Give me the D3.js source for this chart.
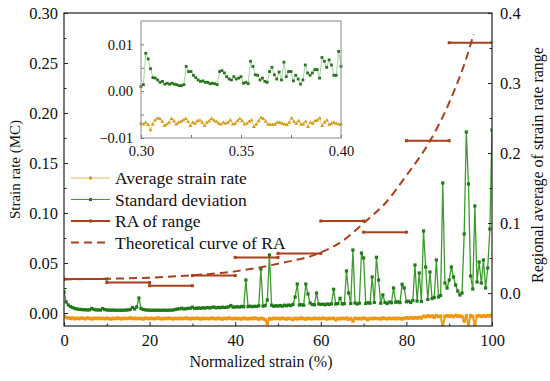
<!DOCTYPE html>
<html>
<head>
<meta charset="utf-8">
<script src="https://d3js.org/d3.v7.min.js"></script>
<style>
  body { margin: 0; background: #fff; }
</style>
</head>
<body>
<svg width="550" height="381"></svg>
<script>
// ---- data ----
// main plot, x = 0, 0.5, 1 ... 100 (% normalized strain)
var stdDev = [
  0.021,0.011,0.008,0.0065,0.0055,0.0045,0.004,0.0037,0.0035,0.0033,0.0032,0.003,0.0032,0.0046,0.0036,0.003,0.0031,0.0029,0.0045,0.0035,
  0.003,0.0029,0.0028,0.0029,0.0028,0.0027,0.0028,0.0027,0.0028,0.0029,0.0031,0.0036,0.0055,0.004,0.006,0.015,0.0045,0.0035,0.0031,0.0029,
  0.0028,0.0027,0.0028,0.0027,0.0028,0.0027,0.0027,0.0028,0.0027,0.0028,0.0028,0.003,0.0035,0.004,0.0042,0.0048,0.004,0.0043,0.0046,0.0048,
  0.0058,0.0045,0.0048,0.005,0.0047,0.0052,0.0049,0.0055,0.0051,0.0054,0.006,0.0052,0.0056,0.0053,0.0058,0.0055,0.0057,0.0062,0.0075,0.0058,
  0.006,0.0063,0.0059,0.0066,0.0062,0.033,0.0064,0.0068,0.0063,0.0067,0.0065,0.0072,0.044,0.0069,0.0074,0.013,0.058,0.0078,0.0068,0.0072,
  0.007,0.0075,0.0068,0.0078,0.0072,0.008,0.0074,0.0085,0.016,0.029,0.008,0.0083,0.0078,0.029,0.019,0.01,0.0085,0.0082,0.02,0.009,
  0.0085,0.0088,0.0082,0.009,0.0086,0.0092,0.0237,0.009,0.0095,0.0147,0.009,0.0093,0.042,0.02,0.0095,0.063,0.01,0.009,0.0098,0.06,
  0.055,0.0095,0.0102,0.0098,0.036,0.0105,0.0557,0.033,0.0098,0.018,0.0105,0.0095,0.011,0.0102,0.025,0.0108,0.0112,0.0104,0.0287,0.025,
  0.0112,0.0118,0.0105,0.0125,0.048,0.012,0.04,0.0115,0.082,0.046,0.0135,0.041,0.0145,0.0155,0.053,0.016,0.0175,0.13,0.03,0.025,
  0.033,0.046,0.036,0.028,0.022,0.018,0.02,0.079,0.181,0.129,0.037,0.024,0.107,0.031,0.051,0.03,0.053,0.025,0.045,0.084,
  0.183
];
var avgRate = [
  -0.003,-0.0045,-0.005,-0.0055,-0.005,-0.0058,-0.0052,-0.0056,-0.005,-0.0054,-0.0058,-0.005,-0.0055,-0.006,-0.0052,-0.0056,-0.0051,-0.0057,-0.0053,-0.0058,
  -0.0052,-0.0056,-0.006,-0.0053,-0.0057,-0.005,-0.0055,-0.0059,-0.0052,-0.0056,-0.0054,-0.0049,-0.0057,-0.0052,-0.0058,-0.0053,-0.0056,-0.006,-0.0051,-0.0055,
  -0.0057,-0.0052,-0.0058,-0.0054,-0.005,-0.0056,-0.0059,-0.0053,-0.0057,-0.0051,-0.0055,-0.006,-0.0053,-0.0057,-0.0052,-0.0058,-0.0054,-0.005,-0.0056,-0.0059,
  -0.0053,-0.0057,-0.0051,-0.0055,-0.006,-0.0052,-0.0057,-0.0054,-0.0058,-0.005,-0.0055,-0.0059,-0.0052,-0.0056,-0.0061,-0.0053,-0.0057,-0.005,-0.0055,-0.0058,
  -0.0052,-0.0057,-0.0054,-0.006,-0.0051,-0.0056,-0.0059,-0.0053,-0.0058,-0.005,-0.0055,-0.0062,-0.0053,-0.0057,-0.0068,-0.0103,-0.0056,-0.006,-0.0052,-0.0057,
  -0.0054,-0.0059,-0.0051,-0.0056,-0.006,-0.0053,-0.0057,-0.0065,-0.0052,-0.0058,-0.0055,-0.005,-0.0057,-0.0061,-0.0053,-0.0056,-0.0059,-0.0052,-0.0057,-0.0054,
  -0.0058,-0.0051,-0.0056,-0.006,-0.0053,-0.0057,-0.0052,-0.0068,-0.0055,-0.0059,-0.0053,-0.0057,-0.005,-0.0063,-0.0055,-0.008,-0.0052,-0.0057,-0.0054,-0.0059,
  -0.0051,-0.0056,-0.0066,-0.0053,-0.0058,-0.0052,-0.0057,-0.0054,-0.006,-0.005,-0.0055,-0.0059,-0.0052,-0.0057,-0.0053,-0.0058,-0.0051,-0.0056,-0.006,-0.0053,
  -0.0048,-0.0054,-0.0045,-0.0052,-0.0047,-0.0051,-0.0044,-0.005,-0.0032,-0.0038,-0.0028,-0.0035,-0.003,-0.0042,-0.0027,-0.0036,-0.0031,-0.014,-0.0034,-0.0026,
  -0.0033,-0.0028,-0.0037,-0.0025,-0.0032,-0.0029,-0.0036,-0.008,-0.0031,-0.011,-0.0027,-0.0034,-0.012,-0.003,-0.0026,-0.0035,-0.0029,-0.0033,-0.0025,-0.003,
  -0.002
];
// regional average of range, one value per 10 % block (right axis)
var raStart = [0, 10, 20, 30, 40, 50, 60, 70, 80, 90];
var raValue = [0.02, 0.015, 0.0105, 0.025, 0.051, 0.0567, 0.103, 0.087, 0.2176, 0.3576];
// theoretical curve of RA (right axis)
var theoX = [0, 10, 20, 30, 40, 50, 60, 65, 70, 75, 80, 85, 90, 95, 95.7];
var theoY = [0.0195, 0.0205, 0.022, 0.0255, 0.031, 0.042, 0.058, 0.074, 0.1, 0.128, 0.168, 0.212, 0.272, 0.355, 0.37];
// inset, x from 0.30 to 0.40
var insetStd = [
  0.0010,0.0014,0.0081,0.0069,0.0048,0.0029,0.0028,0.0024,0.0019,0.0021,0.0015,0.0017,0.0015,0.0017,0.0015,0.0014,0.0012,0.0012,0.0014,0.0053,
  0.0042,0.0042,0.0034,0.0029,0.0024,0.0021,0.0022,0.0019,0.0019,0.0016,0.0017,0.0016,0.0014,0.0042,0.0044,0.0039,0.0031,0.0026,0.0024,0.0031,
  0.0026,0.0028,0.0031,0.0017,0.0019,0.0016,0.0064,0.0053,0.0035,0.0034,0.0024,0.0028,0.0021,0.0019,0.0042,0.0051,0.0035,0.0026,0.0041,0.0024,
  0.0062,0.0031,0.0042,0.0042,0.0022,0.0034,0.0026,0.0015,0.0024,0.0056,0.0039,0.0034,0.0039,0.0046,0.0046,0.0028,0.0072,0.0064,0.0051,0.0067,
  0.0056,0.0034,0.0034,0.0085,0.0053
];
var insetAvg = [
  -0.0069,-0.0071,-0.0067,-0.0072,-0.0083,-0.0071,-0.0062,-0.0058,-0.0059,-0.0065,-0.0074,-0.0071,-0.0067,-0.0059,-0.0064,-0.0071,-0.0067,-0.0065,-0.0062,-0.0059,
  -0.0065,-0.0074,-0.0067,-0.0069,-0.0064,-0.0062,-0.0067,-0.0074,-0.0067,-0.0064,-0.0059,-0.0062,-0.0065,-0.0069,-0.0071,-0.0067,-0.0069,-0.0067,-0.0062,-0.0071,
  -0.0069,-0.0064,-0.0059,-0.0064,-0.0071,-0.0069,-0.0065,-0.0062,-0.0076,-0.0071,-0.0064,-0.0057,-0.0059,-0.0065,-0.0071,-0.0072,-0.0072,-0.0071,-0.0067,-0.0067,
  -0.0069,-0.0071,-0.0072,-0.0067,-0.0058,-0.0065,-0.0069,-0.0064,-0.0071,-0.0071,-0.0065,-0.0076,-0.0067,-0.0069,-0.0064,-0.0062,-0.0058,-0.0074,-0.0067,-0.0062,
  -0.0072,-0.0069,-0.0067,-0.0069,-0.0071,-0.0071
];
var xTicks = [0, 20, 40, 60, 80, 100];
var yLeftTicks = [0, 0.05, 0.10, 0.15, 0.20, 0.25, 0.30];
var yRightTicks = [0, 0.1, 0.2, 0.3, 0.4];
var insetXTicks = [0.30, 0.35, 0.40];
var insetYTicks = [-0.01, 0, 0.01];
var legendNames = ["Average strain rate", "Standard deviation", "RA of range", "Theoretical curve of RA"];

// ---- layout ----
var FONT = "'Liberation Serif', 'Times New Roman', Times, serif";
var svg = d3.select("svg").attr("font-family", FONT);
var L = 64, R = 492, T = 13, B = 326;

var x = d3.scaleLinear().domain([0, 100]).range([L, R]);
var yL = d3.scaleLinear().domain([-0.013, 0.30]).range([B, T]);
var yR = d3.scaleLinear().domain([-0.047, 0.40]).range([B, T]);

var cGreenLine = "#3f9a30", cGreenMark = "#1f7a18";
var cOrgLine = "#e2a62a", cOrgMark = "#f2960f";
var cBrown = "#a8401c";

svg.append("clipPath").attr("id", "clip")
  .append("rect").attr("x", L).attr("y", T).attr("width", R - L).attr("height", B - T);

var plot = svg.append("g").attr("clip-path", "url(#clip)");

function series(g, vals, xs, ys, lineCol, lw, markCol, size) {
  var pts = vals.map(function(v, i) { return [xs(i), ys(v)]; });
  g.append("path").attr("d", d3.line()(pts))
    .attr("fill", "none").attr("stroke", lineCol).attr("stroke-width", lw);
  g.selectAll(null).data(pts).enter().append("rect")
    .attr("x", function(d) { return d[0] - size / 2; })
    .attr("y", function(d) { return d[1] - size / 2; })
    .attr("width", size).attr("height", size)
    .attr("fill", markCol);
}

series(plot, stdDev, function(i) { return x(i * 0.5); }, yL, cGreenLine, 1.3, cGreenMark, 3.2);
series(plot, avgRate, function(i) { return x(i * 0.5); }, yL, cOrgLine, 2.2, cOrgMark, 3.4);

// RA of range segments
raStart.forEach(function(s, i) {
  var yy = yR(raValue[i]);
  plot.append("line").attr("x1", x(s)).attr("x2", x(s + 10)).attr("y1", yy).attr("y2", yy)
    .attr("stroke", cBrown).attr("stroke-width", 2);
  [s, s + 10].forEach(function(e) {
    plot.append("rect").attr("x", x(e) - 1.5).attr("y", yy - 1.5).attr("width", 3).attr("height", 3).attr("fill", cBrown);
  });
});

// theoretical curve
plot.append("path")
  .attr("d", d3.line().curve(d3.curveMonotoneX)
    .x(function(d, i) { return x(theoX[i]); })
    .y(function(d) { return yR(d); })(theoY))
  .attr("fill", "none").attr("stroke", cBrown).attr("stroke-width", 2)
  .attr("stroke-dasharray", "8,5");

// ---- axes ----
var fs = "16.5px";
var axB = svg.append("g").attr("transform", "translate(0," + B + ")")
  .call(d3.axisBottom(x).tickValues(d3.range(0, 101, 10)).tickSize(-4).tickPadding(8)
    .tickFormat(function(d) { return xTicks.indexOf(d) >= 0 ? d : ""; }));
var axL = svg.append("g").attr("transform", "translate(" + L + ",0)")
  .call(d3.axisLeft(yL).tickValues(d3.range(0, 0.301, 0.025)).tickSize(-4).tickPadding(6)
    .tickFormat(function(d) {
      var hit = yLeftTicks.some(function(t) { return Math.abs(t - d) < 1e-6; });
      return hit ? d3.format(".2f")(d) : "";
    }));
var axR = svg.append("g").attr("transform", "translate(" + R + ",0)")
  .call(d3.axisRight(yR).tickValues(d3.range(0, 0.401, 0.05)).tickSize(-4).tickPadding(8)
    .tickFormat(function(d) {
      var hit = yRightTicks.some(function(t) { return Math.abs(t - d) < 1e-6; });
      return hit ? d3.format(".1f")(d) : "";
    }));
[axB, axL, axR].forEach(function(a) {
  a.attr("font-family", FONT);
  a.select(".domain").remove();
  a.selectAll("line").attr("stroke", "#222");
  a.selectAll("text").style("font-size", fs).attr("fill", "#111");
});
// minor ticks shorter
axB.selectAll(".tick").filter(function(d) { return d % 20 !== 0; }).select("line").attr("y2", -2.5);
axL.selectAll(".tick").filter(function(d) { return Math.round(d * 1000) % 50 !== 0; }).select("line").attr("x2", 2.5);
axR.selectAll(".tick").filter(function(d) { return Math.round(d * 100) % 10 !== 0; }).select("line").attr("x2", -2.5);

svg.append("rect").attr("x", L).attr("y", T).attr("width", R - L).attr("height", B - T)
  .attr("fill", "none").attr("stroke", "#222").attr("stroke-width", 1.2);

svg.append("text").attr("x", 261).attr("y", 367).attr("text-anchor", "middle")
  .style("font-size", "16px").text("Normalized strain (%)");
svg.append("text").attr("transform", "translate(20," + ((T + B) / 2) + ") rotate(-90)")
  .attr("text-anchor", "middle").style("font-size", "15px").text("Strain rate (MC)");
svg.append("text").attr("transform", "translate(543,165) rotate(-90)")
  .attr("text-anchor", "middle").style("font-size", "16px").text("Regional average of strain rate range");

// ---- legend ----
var lg = svg.append("g");
var ly = [178, 199.5, 221, 242.5];
legendNames.forEach(function(name, i) {
  var y0 = ly[i];
  var col = [ "#d8c46a", cGreenLine, cBrown, cBrown ][i];
  var ln = lg.append("line").attr("x1", 71).attr("x2", 110).attr("y1", y0).attr("y2", y0)
    .attr("stroke", col).attr("stroke-width", i >= 2 ? 2 : 1.2);
  if (i === 3) ln.attr("stroke-dasharray", "8,5");
  if (i < 3) {
    lg.append("rect").attr("x", 89).attr("y", y0 - 1.5).attr("width", 3).attr("height", 3)
      .attr("fill", ["#c9a21a", cGreenMark, cBrown][i]);
  }
  lg.append("text").attr("x", 115).attr("y", y0 + 6).style("font-size", "17.5px").text(name);
});

// ---- inset ----
var iL = 141, iR = 341, iT = 21, iB = 138;
var ix = d3.scaleLinear().domain([0.30, 0.40]).range([iL, iR]);
var iy = d3.scaleLinear().domain([-0.01, 0.015]).range([iB, iT]);
var ins = svg.append("g");
ins.append("rect").attr("x", iL).attr("y", iT).attr("width", iR - iL).attr("height", iB - iT)
  .attr("fill", "#fff");

function insetSeries(vals, lineCol, markCol, tri) {
  var pts = vals.map(function(v, i) { return [ix(0.30 + 0.10 * i / (vals.length - 1)), iy(v)]; });
  ins.append("path").attr("d", d3.line()(pts))
    .attr("fill", "none").attr("stroke", lineCol).attr("stroke-width", 0.8);
  var sym = d3.symbol().type(tri ? d3.symbolTriangle : d3.symbolSquare).size(tri ? 7 : 8);
  ins.selectAll(null).data(pts).enter().append("path")
    .attr("d", sym).attr("transform", function(d) { return "translate(" + d[0] + "," + d[1] + ")"; })
    .attr("fill", markCol);
}
insetSeries(insetStd, "#8cc98a", "#2a7420", false);
insetSeries(insetAvg, "#e8c866", "#d29c1c", true);

var iaB = ins.append("g").attr("transform", "translate(0," + iB + ")")
  .call(d3.axisBottom(ix).tickValues([0.30, 0.325, 0.35, 0.375, 0.40]).tickSize(-3).tickPadding(8)
    .tickFormat(function(d) {
      var hit = insetXTicks.some(function(t) { return Math.abs(t - d) < 1e-6; });
      return hit ? d3.format(".2f")(d) : "";
    }));
var iaL = ins.append("g").attr("transform", "translate(" + iL + ",0)")
  .call(d3.axisLeft(iy).tickValues([-0.01, -0.005, 0, 0.005, 0.01]).tickSize(-3).tickPadding(8)
    .tickFormat(function(d) {
      var hit = insetYTicks.some(function(t) { return Math.abs(t - d) < 1e-6; });
      return hit ? d3.format(".2f")(d).replace("-", "\u2212") : "";
    }));
[iaB, iaL].forEach(function(a) {
  a.attr("font-family", FONT);
  a.select(".domain").remove();
  a.selectAll("line").attr("stroke", "#777");
  a.selectAll("text").style("font-size", "14.5px").attr("fill", "#111");
});
ins.append("rect").attr("x", iL).attr("y", iT).attr("width", iR - iL).attr("height", iB - iT)
  .attr("fill", "none").attr("stroke", "#888").attr("stroke-width", 1);

svg.selectAll("text").style("font-family", FONT).attr("fill", "#111");
</script>
</body>
</html>
